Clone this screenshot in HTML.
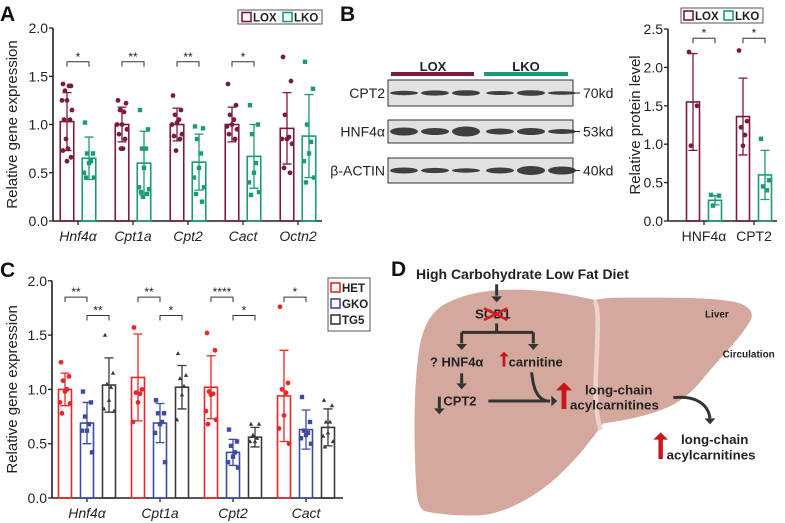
<!DOCTYPE html>
<html><head><meta charset="utf-8">
<style>
html,body{margin:0;padding:0;background:#fff;}
svg{display:block;font-family:"Liberation Sans","DejaVu Sans",sans-serif;}
</style></head>
<body>
<svg id="fig" width="785" height="523" viewBox="0 0 785 523" xmlns="http://www.w3.org/2000/svg">
 <g id="panelA"></g>
 <g id="panelB"></g>
 <g id="panelC"></g>
 <g id="panelD"></g>
</svg>
<script>
// ===== Panel A data =====
const aCategories = ["Hnf4α","Cpt1a","Cpt2","Cact","Octn2"];
const aLoxMean = [1.03,1.00,1.00,1.00,0.96];
const aLoxSd = [0.30,0.18,0.17,0.18,0.37];
const aLkoMean = [0.65,0.60,0.61,0.67,0.88];
const aLkoSd = [0.22,0.33,0.29,0.33,0.43];
const aLoxPoints = [
 [1.42,1.40,1.35,1.40,1.25,1.25,1.15,1.05,1.05,0.85,0.75,0.73,0.66,0.62],
 [1.25,1.22,1.15,1.13,1.0,1.0,0.95,0.9,0.85,0.75,0.75],
 [1.3,1.15,1.1,1.05,1.02,1.0,0.9,0.88,0.85,0.73],
 [1.42,1.2,1.1,1.05,1.0,0.98,0.95,0.9,0.85],
 [1.7,1.45,1.1,0.87,0.85,0.85,0.8,0.55,0.5]];
const aLkoPoints = [
 [1.02,0.7,0.7,0.62,0.6,0.5,0.45,0.45],
 [1.15,0.95,0.75,0.75,0.55,0.35,0.33,0.3,0.28,0.25],
 [0.98,0.96,0.85,0.7,0.55,0.45,0.35,0.28,0.2],
 [1.2,1.0,0.9,0.6,0.5,0.4,0.3,0.27],
 [1.65,1.37,1.0,0.82,0.7,0.62,0.45,0.4]];
const aSig = ["*","**","**","*",""];
const aTicks = [0,0.5,1.0,1.5,2.0];
// ===== Panel B data =====
const bCategories = ["HNF4α","CPT2"];
const bLoxMean = [1.55,1.36];
const bLoxSd = [0.63,0.50];
const bLkoMean = [0.27,0.60];
const bLkoSd = [0.06,0.32];
const bLoxPoints = [[2.2,1.5,0.98],[2.22,1.3,1.22,1.12,0.98]];
const bLkoPoints = [[0.34,0.33,0.2],[1.07,0.53,0.45,0.4]];
const bSig = ["*","*"];
const bTicks = [0,0.5,1.0,1.5,2.0,2.5];
// ===== Panel C data =====
const cCategories = ["Hnf4α","Cpt1a","Cpt2","Cact"];
const cHetMean = [1.0,1.11,1.02,0.94];
const cHetSd = [0.15,0.40,0.29,0.42];
const cGkoMean = [0.69,0.69,0.42,0.63];
const cGkoSd = [0.19,0.18,0.12,0.18];
const cTg5Mean = [1.04,1.02,0.56,0.65];
const cTg5Sd = [0.25,0.20,0.09,0.17];
const cHetPoints = [[1.25,1.12,1.08,1.0,0.98,0.88,0.87,0.78],[1.57,1.0,0.97,0.96,0.88,0.7],[1.52,1.36,0.98,0.96,0.95,0.8,0.72,0.68],[1.76,1.06,1.0,0.97,0.76,0.64,0.5]];
const cGkoPoints = [[0.98,0.88,0.75,0.68,0.62,0.62,0.42],[0.9,0.78,0.78,0.7,0.68,0.6,0.33],[0.63,0.52,0.48,0.42,0.38,0.33,0.28],[0.93,0.7,0.62,0.6,0.58,0.55,0.5]];
const cTg5Points = [[1.5,1.15,1.05,1.02,0.9,0.82,0.8],[1.33,1.13,1.1,1.03,0.95,0.72],[0.68,0.68,0.58,0.55,0.52,0.52],[0.9,0.85,0.7,0.7,0.6,0.57,0.52,0.47]];
const cSig1 = ["**","**","****","*"];
const cSig2 = ["**","*","*",""];
const cTicks = [0,0.5,1.0,1.5,2.0];

const NS="http://www.w3.org/2000/svg";
const LOX="#7b1a3f", LKO="#1a9a78", HET="#e8262b", GKO="#3d4ca0", TG5="#3a3a3a";
function mk(tag,parent,attrs,text){const e=document.createElementNS(NS,tag);for(const k in attrs)e.setAttribute(k,attrs[k]);if(text!==undefined)e.textContent=text;parent.appendChild(e);return e;}
const jit=[-4,4,-2,2,0,-5,5,-3,3,-1,1,-4,4,0];
function marker(g,shape,x,y,color){
 let e;
 if(shape==="c") e=mk("circle",g,{cx:x,cy:y,r:2.4,fill:color});
 else if(shape==="s") e=mk("rect",g,{x:x-2.2,y:y-2.2,width:4.4,height:4.4,fill:color});
 else e=mk("path",g,{d:`M${x},${y-2.4}L${x+2.2},${y+1.6}L${x-2.2},${y+1.6}Z`,fill:color});
 
 
}
function axisY(g,x0,yFn,ticks,xEnd,fs,label,labelX){
 const top=yFn(ticks[ticks.length-1]);
 const ax=mk("line",g,{x1:x0,y1:top,x2:x0,y2:yFn(0),stroke:"#222","stroke-width":1.6});
 
 const bx=mk("line",g,{x1:x0,y1:yFn(0),x2:xEnd,y2:yFn(0),stroke:"#222","stroke-width":1.6});
 
 ticks.forEach(t=>{const y=yFn(t);
  mk("line",g,{x1:x0-4,y1:y,x2:x0,y2:y,stroke:"#222","stroke-width":1.3});
  const tl=mk("text",g,{x:x0-5,y:y+5,"text-anchor":"end","font-size":fs,fill:"#222"},t.toFixed(1));
  });
 const cy=(top+yFn(0))/2;
 const yl=mk("text",g,{x:labelX,y:cy,"text-anchor":"middle","font-size":fs+1,fill:"#222",transform:`rotate(-90 ${labelX} ${cy})`},label);
 
}
function bar(g,cx,w,mean,sd,color,yFn,pts,shape,name){
 const r=mk("rect",g,{x:cx-w/2,y:yFn(mean),width:w,height:yFn(0)-yFn(mean),fill:"none",stroke:color,"stroke-width":1.6});
 
 const e=mk("path",g,{d:`M${cx},${yFn(mean-sd)}V${yFn(mean+sd)}M${cx-4.5},${yFn(mean+sd)}H${cx+4.5}M${cx-4.5},${yFn(mean-sd)}H${cx+4.5}`,stroke:color,"stroke-width":1.3,fill:"none"});
 
 pts.forEach((v,i)=>marker(g,shape,cx+jit[i%jit.length],yFn(v),color));
}
function bracket(g,x1,x2,y,txt){
 const b=mk("path",g,{d:`M${x1},${y+5}V${y}H${x2}V${y+5}`,stroke:"#333","stroke-width":1,fill:"none"});
 
 const t=mk("text",g,{x:(x1+x2)/2,y:y-1,"text-anchor":"middle","font-size":12,fill:"#222"},txt);
 
}
function legendBox(g,x,y,color,label,fs){
 mk("rect",g,{x:x,y:y,width:9,height:9,fill:"none",stroke:color,"stroke-width":1.6});
 const t=mk("text",g,{x:x+11,y:y+9,"font-size":fs,"font-weight":"bold",fill:"#222"},label);
 
}
function letter(g,x,y,l){const t=mk("text",g,{x:x,y:y,"font-size":21,"font-weight":"bold",fill:"#111"},l);}

// ===== Panel A =====
(function(){
 const g=document.getElementById("panelA");
 const yA=v=>221-v*96.5;
 const xA=i=>78+i*55;
 letter(g,0,21,"A");
 axisY(g,53,yA,aTicks,322,14,"Relative gene expression",17);
 aCategories.forEach((c,i)=>{
  mk("line",g,{x1:xA(i),y1:221,x2:xA(i),y2:225,stroke:"#222","stroke-width":1.3});
  const t=mk("text",g,{x:xA(i),y:241,"text-anchor":"middle","font-size":14,"font-style":"italic",fill:"#222"},c);
  
  bar(g,xA(i)-11,13.5,aLoxMean[i],aLoxSd[i],LOX,yA,aLoxPoints[i],"c","bar-lox");
  bar(g,xA(i)+11,13.5,aLkoMean[i],aLkoSd[i],LKO,yA,aLkoPoints[i],"s","bar-lko");
  if(aSig[i]) bracket(g,xA(i)-11,xA(i)+11,yA(1.65),aSig[i]);
 });
 const lg=mk("g",g,{});
 mk("rect",lg,{x:238,y:10,width:84,height:14,fill:"#fff",stroke:"#555","stroke-width":1});
 legendBox(lg,242,12.5,LOX,"LOX",11.5);
 legendBox(lg,283,12.5,LKO,"LKO",11.5);
})();

// ===== Panel B =====
(function(){
 const g=document.getElementById("panelB");
 letter(g,340,21,"B");
 const wb=mk("g",g,{});
 const t1=mk("text",wb,{x:433,y:71,"text-anchor":"middle","font-size":13,"font-weight":"bold",fill:"#222"},"LOX");
 
 const t2=mk("text",wb,{x:526,y:71,"text-anchor":"middle","font-size":13,"font-weight":"bold",fill:"#222"},"LKO");
 
 mk("rect",wb,{x:391,y:72,width:83,height:4,fill:LOX});
 mk("rect",wb,{x:484,y:72,width:84,height:4,fill:LKO});
 const rows=[["CPT2",80,26,"70kd",[2.2,2.6,2.8,2,2.8,1.8]],["HNF4α",120,23,"53kd",[4,3.5,5,3,3.5,2.5]],["β-ACTIN",158,25,"40kd",[3,2.6,2.2,3,4.5,4]]];
 rows.forEach(r=>{
  const y=r[1],h=r[2];
  const box=mk("rect",wb,{x:388,y:y,width:185,height:h,fill:"#e2e2e2",stroke:"#333","stroke-width":1});
  
  for(let k=0;k<6;k++){const cx=404+k*31;mk("ellipse",wb,{cx:cx+(k>2?3:0),cy:y+h/2,rx:14,ry:r[4][k],fill:"#222",opacity:0.85});}
  const lt=mk("text",wb,{x:385,y:y+h/2+5,"text-anchor":"end","font-size":14,fill:"#222"},r[0]);
  
  mk("line",wb,{x1:575,y1:y+h/2,x2:580,y2:y+h/2,stroke:"#222","stroke-width":1});
  const kt=mk("text",wb,{x:583,y:y+h/2+5,"font-size":14,fill:"#222"},r[3]);
  
 });
 const yB=v=>221-v*76.8;
 const xB=i=>704+i*50;
 axisY(g,668,yB,bTicks,777,14,"Relative protein level",640);
 bCategories.forEach((c,i)=>{
  mk("line",g,{x1:xB(i),y1:221,x2:xB(i),y2:225,stroke:"#222","stroke-width":1.3});
  const t=mk("text",g,{x:xB(i),y:241,"text-anchor":"middle","font-size":14,fill:"#222"},c);
  
  bar(g,xB(i)-11,13,bLoxMean[i],bLoxSd[i],LOX,yB,bLoxPoints[i],"c","bar-lox");
  bar(g,xB(i)+11,13,bLkoMean[i],bLkoSd[i],LKO,yB,bLkoPoints[i],"s","bar-lko");
  bracket(g,xB(i)-11,xB(i)+11,yB(2.38),bSig[i]);
 });
 const lg=mk("g",g,{});
 mk("rect",lg,{x:681,y:8,width:82,height:15,fill:"#fff",stroke:"#555","stroke-width":1});
 legendBox(lg,684,11,LOX,"LOX",11.5);
 legendBox(lg,724,11,LKO,"LKO",11.5);
})();

// ===== Panel C =====
(function(){
 const g=document.getElementById("panelC");
 const yC=v=>498-v*108.6;
 const xC=i=>87+i*73;
 letter(g,0,277,"C");
 axisY(g,52,yC,cTicks,343,14,"Relative gene expression",17);
 cCategories.forEach((c,i)=>{
  mk("line",g,{x1:xC(i),y1:498,x2:xC(i),y2:502,stroke:"#222","stroke-width":1.3});
  const t=mk("text",g,{x:xC(i),y:518,"text-anchor":"middle","font-size":14,"font-style":"italic",fill:"#222"},c);
  
  bar(g,xC(i)-22,13,cHetMean[i],cHetSd[i],HET,yC,cHetPoints[i],"c","bar-het");
  bar(g,xC(i),13,cGkoMean[i],cGkoSd[i],GKO,yC,cGkoPoints[i],"s","bar-gko");
  bar(g,xC(i)+22,13,cTg5Mean[i],cTg5Sd[i],TG5,yC,cTg5Points[i],"t","bar-tg5");
  if(cSig1[i]) bracket(g,xC(i)-22,xC(i),yC(1.85),cSig1[i]);
  if(cSig2[i]) bracket(g,xC(i),xC(i)+22,yC(1.68),cSig2[i]);
 });
 const lg=mk("g",g,{});
 mk("rect",lg,{x:328,y:278,width:42,height:53,fill:"#fff",stroke:"#555","stroke-width":1});
 legendBox(lg,331,283,HET,"HET",11.5);
 legendBox(lg,331,299,GKO,"GKO",11.5);
 legendBox(lg,331,315,TG5,"TG5",11.5);
})();

// ===== Panel D =====
(function(){
 const g=document.getElementById("panelD");
 letter(g,391,276,"D");
 const d=mk("g",g,{transform:"translate(390,255) scale(0.3333)"});
 const lv=mk("path",d,{d:"M160,150 C230,110 320,100 420,105 C500,110 570,125 615,135 C640,130 660,128 700,128 C820,128 950,125 1030,140 C1080,150 1095,175 1080,200 C1050,250 990,310 940,370 C900,420 860,450 800,470 C740,490 680,500 640,505 C600,560 540,640 460,700 C400,745 330,775 280,780 C220,785 150,778 110,770 C85,765 80,730 78,680 C72,560 70,420 85,300 C95,220 120,175 160,150 Z",fill:"#d5a89d"});
 
 mk("path",d,{d:"M612,138 C630,150 622,250 618,350 C615,430 620,490 632,525",stroke:"#ecd2c8","stroke-width":14,fill:"none"});
 function T(x,y,s,txt,name,color){const t=mk("text",d,{x:x,y:y,"font-size":s,"font-weight":"bold",fill:color||"#222"},txt);return t;}
 function arrow(p,name,w){const a=mk("path",d,{d:p,stroke:"#333","stroke-width":w||9,fill:"none"});}
 function head(x,y,dir){
  let p=dir==="down"?`M${x-16},${y-18}L${x+16},${y-18}L${x},${y}Z`:`M${x-18},${y-16}L${x-18},${y+16}L${x},${y}Z`;
  mk("path",d,{d:p,fill:"#333"});}
 function redUp(x,y1,y2,w){mk("path",d,{d:`M${x-w*0.3},${y2}V${y1+w}H${x-w}L${x},${y1}L${x+w},${y1+w}H${x+w*0.3}V${y2}Z`,fill:"#c8161d"});}
 T(78,72,42,"High Carbohydrate Low Fat Diet","diet-label");
 arrow("M320,88V122","arrow-diet");head(320,142,"down");
 T(255,190,40,"SCD1","scd1-label");
 mk("path",d,{d:"M282,160L352,195M352,160L282,195",stroke:"#d42020","stroke-width":8});
 arrow("M320,205V232M215,232H430M215,232V265M430,232V265","arrow-branch");
 head(215,285,"down");head(430,285,"down");
 T(120,335,39,"? HNF4α","hnf4a-label");
 redUp(342,290,335,14);
 T(356,335,39,"carnitine","carnitine-label");
 arrow("M215,355V385","arrow-hnf4a");head(215,403,"down");
 T(160,452,39,"CPT2","cpt2-label");
 arrow("M148,425V460");head(148,478,"down");
 arrow("M295,438H480","arrow-cpt2");head(502,438,"right");
 arrow("M425,352C430,400 440,430 470,438","arrow-carnitine");
 redUp(522,382,462,24);
 T(585,418,40,"long-chain","acylcarnitine-liver-label");
 T(540,464,40,"acylcarnitines","acylcarnitine-liver-label-2");
 T(945,187,30,"Liver","liver-label");
 T(998,307,30,"Circulation","circulation-label");
 arrow("M850,428C920,420 955,450 960,490","arrow-circulation");head(960,508,"down");
 redUp(812,532,612,22);
 T(873,567,40,"long-chain","acylcarnitine-blood-label");
 T(830,614,40,"acylcarnitines","acylcarnitine-blood-label-2");
})();
</script>
</body></html>
